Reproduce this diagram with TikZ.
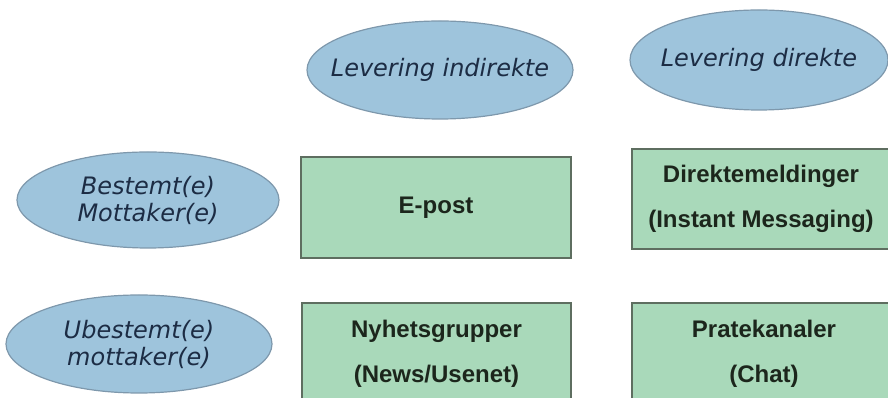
\documentclass[tikz,border=0pt]{standalone}
\usepackage{fontspec}
\usetikzlibrary{shapes.geometric}
\newfontfamily\ellfont{DejaVu Sans}
\newfontfamily\boxfont{Liberation Sans}
\definecolor{ellfill}{HTML}{9EC4DC}
\definecolor{elldraw}{HTML}{7E98AC}
\definecolor{elltext}{HTML}{1C2C44}
\definecolor{boxfill}{HTML}{A9D9BA}
\definecolor{boxdraw}{HTML}{5E6E60}
\definecolor{boxtext}{HTML}{1C261C}
\tikzset{
  ell/.style={ellipse, draw=elldraw, fill=ellfill, line width=1.2pt, inner ysep=0pt, inner xsep=-25pt,
    text=elltext, align=center, font=\ellfont\itshape\fontsize{24}{27}\selectfont},
  cell/.style={rectangle, draw=boxdraw, fill=boxfill, line width=1.4pt, inner sep=0pt,
    text=boxtext, align=center, font=\boxfont\bfseries\fontsize{24}{45}\selectfont}
}
\begin{document}
\begin{tikzpicture}[x=1pt,y=1pt]
\path[use as bounding box] (0,0) rectangle (888,398);
\clip (0,0) rectangle (888,398);
\node[ell, minimum width=266pt, minimum height=98pt] (indir) at (440,328) {Levering indirekte};
\node[ell, minimum width=258pt, minimum height=100pt] (dir) at (759,338) {Levering direkte};
\node[ell, minimum width=262pt, minimum height=96pt] (best) at (148,198) {Bestemt(e)\\Mottaker(e)};
\node[ell, minimum width=266pt, minimum height=98pt] (ubest) at (139,54) {Ubestemt(e)\\mottaker(e)};
\node[cell, minimum width=270pt, minimum height=101pt] (epost) at (436,190.5) {E-post};
\node[cell, minimum width=258pt, minimum height=100pt] (im) at (761,199) {Direktemeldinger\\(Instant Messaging)};
\node[cell, minimum width=269pt, minimum height=102pt] (news) at (436.5,44) {Nyhetsgrupper\\(News/Usenet)};
\node[cell, minimum width=264pt, minimum height=102pt] (chat) at (764,44) {Pratekanaler\\(Chat)};
\end{tikzpicture}
\end{document}
